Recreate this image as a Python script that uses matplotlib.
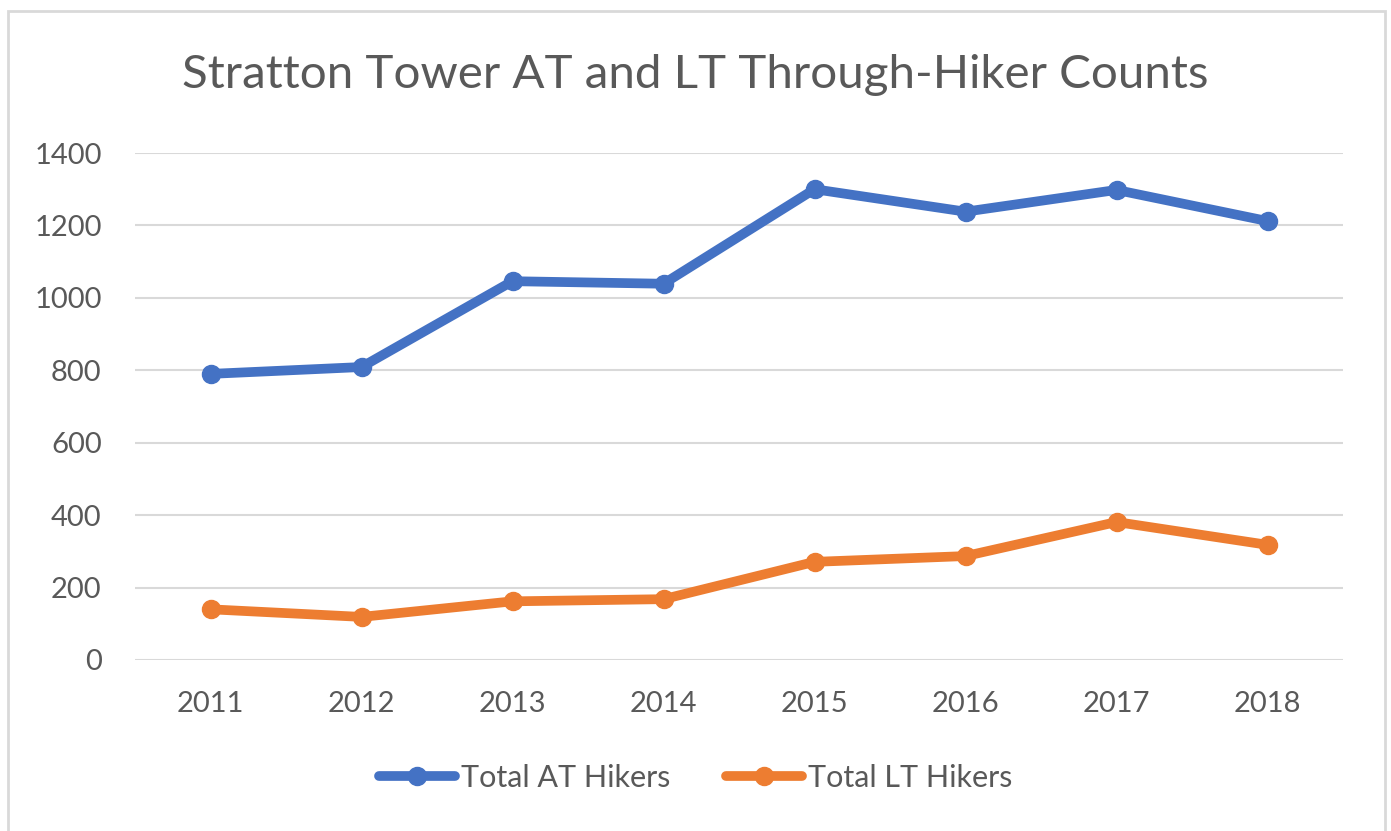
import matplotlib
matplotlib.use("Agg")
import matplotlib.pyplot as plt
from matplotlib.patches import Rectangle

years = ["2011", "2012", "2013", "2014", "2015", "2016", "2017", "2018"]
at_hikers = [790, 809, 1046, 1039, 1300, 1238, 1298, 1212]
lt_hikers = [140, 119, 162, 168, 271, 287, 381, 318]
yticks = [0, 200, 400, 600, 800, 1000, 1200, 1400]

plt.rcParams['font.family'] = ['Lato', 'DejaVu Sans']
W, H = 1391, 831
fig = plt.figure(figsize=(W / 100, H / 100), dpi=100)
fig.patch.set_facecolor('white')

# chart border
fig.patches.append(Rectangle((8 / W, -0.02), (1385 - 8) / W, 1 - 11 / H + 0.02,
                             transform=fig.transFigure, fill=False,
                             edgecolor='#D9D9D9', linewidth=2))

ax = fig.add_axes([135 / W, 1 - 660 / H, (1343 - 135) / W, (660 - 153) / H])
x = list(range(len(years)))
ax.plot(x, at_hikers, color='#4472C4', lw=7, marker='o', ms=13,
        solid_capstyle='round', label='Total AT Hikers', zorder=3)
ax.plot(x, lt_hikers, color='#ED7D31', lw=7, marker='o', ms=13,
        solid_capstyle='round', label='Total LT Hikers', zorder=3)

ax.set_xlim(-0.5, len(years) - 0.5)
ax.set_ylim(0, 1400)
ax.set_yticks(yticks)
ax.set_xticks(x)
ax.set_xticklabels(years)
ax.grid(axis='y', color='#D9D9D9', lw=1.5)
ax.set_axisbelow(True)
for s in ax.spines.values():
    s.set_visible(False)
ax.tick_params(length=0, labelsize=21, colors='#595959')
ax.tick_params(axis='y', pad=24)
ax.tick_params(axis='x', pad=22)

fig.text(0.5, 1 - 75 / H, 'Stratton Tower AT and LT Through-Hiker Counts',
         ha='center', va='center', fontsize=34.2, color='#595959')

leg = fig.legend(loc='center', bbox_to_anchor=(0.5, 1 - 778 / H), ncol=2,
                 frameon=False, fontsize=22, handlelength=2.5,
                 handletextpad=0.2, columnspacing=1.8, labelcolor='#595959')

fig.savefig('out.png', dpi=100, facecolor='white')
